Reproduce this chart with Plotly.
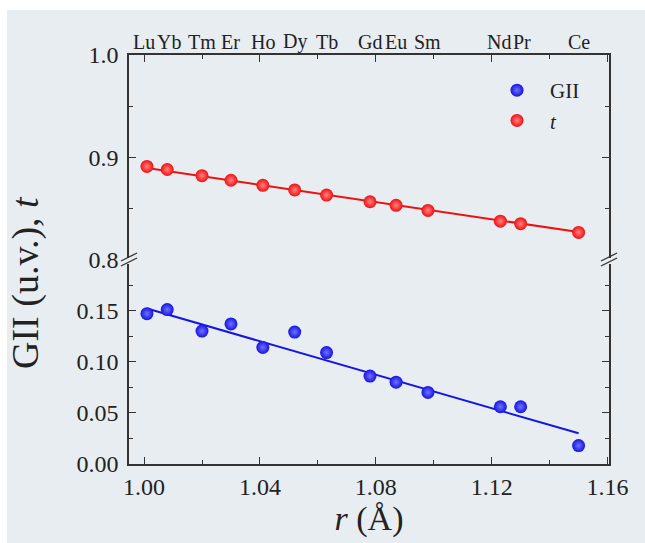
import plotly.graph_objects as go

# ---------------- data ----------------
elements = ["Lu", "Yb", "Tm", "Er", "Ho", "Dy", "Tb", "Gd", "Eu", "Sm", "Nd", "Pr", "Ce"]
r_vals = [1.001, 1.008, 1.020, 1.030, 1.041, 1.052, 1.063, 1.078, 1.087, 1.098, 1.123, 1.130, 1.150]
t_vals = [0.891, 0.888, 0.882, 0.8775, 0.8725, 0.868, 0.863, 0.8565, 0.853, 0.848, 0.8375, 0.835, 0.8265]
gii_vals = [0.147, 0.151, 0.130, 0.137, 0.114, 0.129, 0.109, 0.086, 0.080, 0.070, 0.056, 0.056, 0.018]
fit_r = [1.001, 1.150]
t_fit = [0.8895, 0.8268]
gii_fit = [0.152, 0.030]
bottom_ticks = [0.00, 0.05, 0.10, 0.15]
top_ticks = [0.8, 0.9, 1.0]
x_ticks = [1.00, 1.04, 1.08, 1.12, 1.16]

# ---------------- style ----------------
W, H = 645, 543
ML, MR, MT, MB = 129, 36, 55, 79
PW, PH = W - ML - MR, H - MT - MB
BG = "#e8edf1"
AX = "#333333"
FONT = "Liberation Serif"
RED, RED_HI = "#ee1111", "#ff8080"
BLUE, BLUE_HI = "#1515e0", "#7070ff"
LABEL_NUDGE = {"Lu": -2.5, "Yb": 1.5, "Nd": -1.5, "Pr": 1.5}


def px_x(p):
    return (p - ML) / PW


def px_y(p):
    return (H - MB - p) / PH


fig = go.Figure()

# fit lines
fig.add_trace(go.Scatter(x=fit_r, y=t_fit, mode="lines", line=dict(color=RED, width=2),
                         xaxis="x2", yaxis="y2", showlegend=False, hoverinfo="skip"))
fig.add_trace(go.Scatter(x=fit_r, y=gii_fit, mode="lines", line=dict(color=BLUE, width=2),
                         xaxis="x", yaxis="y", showlegend=False, hoverinfo="skip"))

# points
fig.add_trace(go.Scatter(x=r_vals, y=gii_vals, mode="markers", name="GII",
                         marker=dict(size=13, color=BLUE, line=dict(width=0),
                                     gradient=dict(type="radial", color=BLUE_HI)),
                         xaxis="x", yaxis="y"))
fig.add_trace(go.Scatter(x=r_vals, y=t_vals, mode="markers", name="<i>t</i>",
                         marker=dict(size=13, color=RED, line=dict(width=0),
                                     gradient=dict(type="radial", color=RED_HI)),
                         xaxis="x2", yaxis="y2"))

xr = [0.9948, 1.1605]
common_x = dict(range=xr, showgrid=False, zeroline=False, showline=True, linecolor=AX,
                linewidth=1.5, ticks="inside", ticklen=7, tickwidth=1.3, tickcolor=AX,
                tickvals=x_ticks, minor=dict(dtick=0.02, tick0=1.0, ticks="inside", ticklen=4,
                                             tickwidth=1.3, tickcolor=AX))

common_y = dict(showgrid=False, zeroline=False, showline=True, linecolor=AX, linewidth=1.5,
                mirror="ticks", ticks="inside", ticklen=7, tickwidth=1.3, tickcolor=AX,
                tickfont=dict(family=FONT, size=24, color="#222222"), ticklabelstandoff=4)

fig.update_layout(
    width=W, height=H,
    margin=dict(l=ML, r=MR, t=MT, b=MB),
    paper_bgcolor="white",
    plot_bgcolor="rgba(0,0,0,0)",
    font=dict(family=FONT, color="#222222"),
    xaxis=dict(**common_x, anchor="y", domain=[0, 1], tickformat=".2f",
               tickfont=dict(family=FONT, size=24, color="#222222"),
               title=dict(text="<i>r</i> (Å)", font=dict(family=FONT, size=34, color="#222222"),
                          standoff=8)),
    xaxis2=dict(**common_x, anchor="y2", side="top", matches="x", showticklabels=False),
    yaxis=dict(**common_y, anchor="x", domain=[0, 0.5], range=[0, 0.2], tickvals=bottom_ticks,
               tickformat=".2f",
               minor=dict(dtick=0.025, tick0=0, ticks="inside", ticklen=4, tickwidth=1.3,
                          tickcolor=AX)),
    yaxis2=dict(**common_y, anchor="x2", domain=[0.5, 1], range=[0.8, 1.0], tickvals=top_ticks,
                tickformat=".1f",
                minor=dict(dtick=0.05, tick0=0.8, ticks="inside", ticklen=4, tickwidth=1.3,
                           tickcolor=AX)),
    legend=dict(x=px_x(484), y=px_y(70), xanchor="left", yanchor="top",
                bgcolor="rgba(0,0,0,0)", itemwidth=56,
                font=dict(family=FONT, size=21, color="#222222"), tracegroupgap=0),
    showlegend=True,
)

shapes = []
# light background panel with white border at top/left
shapes.append(dict(type="rect", xref="paper", yref="paper", layer="below",
                   x0=px_x(7), x1=px_x(W + 5), y0=px_y(H + 5), y1=px_y(10),
                   fillcolor=BG, line=dict(width=0)))
# axis break marks on both spines
for sx in (ML, ML + PW):
    shapes.append(dict(type="rect", xref="paper", yref="paper", layer="above",
                       x0=px_x(sx - 3), x1=px_x(sx + 3), y0=px_y(264), y1=px_y(258),
                       fillcolor=BG, line=dict(width=0)))
    for dy in (0, 5):
        shapes.append(dict(type="line", xref="paper", yref="paper", layer="above",
                           x0=px_x(sx - 8), y0=px_y(261 + dy), x1=px_x(sx + 8), y1=px_y(253 + dy),
                           line=dict(color=AX, width=1.3)))
fig.update_layout(shapes=shapes)

annotations = []
for el, xv in zip(elements, r_vals):
    annotations.append(dict(text=el, x=xv, xref="x2", y=1.0, yref="paper", yanchor="bottom",
                            xanchor="center", showarrow=False, yshift=0,
                            xshift=LABEL_NUDGE.get(el, 0),
                            font=dict(family=FONT, size=20, color="#222222")))
annotations.append(dict(text="GII (u.v.), <i>t</i>", x=px_x(25), y=px_y(283), xref="paper",
                        yref="paper", textangle=-90, showarrow=False, xanchor="center",
                        yanchor="middle", font=dict(family=FONT, size=38, color="#222222")))
fig.update_layout(annotations=annotations)

fig.write_html("out.html")
